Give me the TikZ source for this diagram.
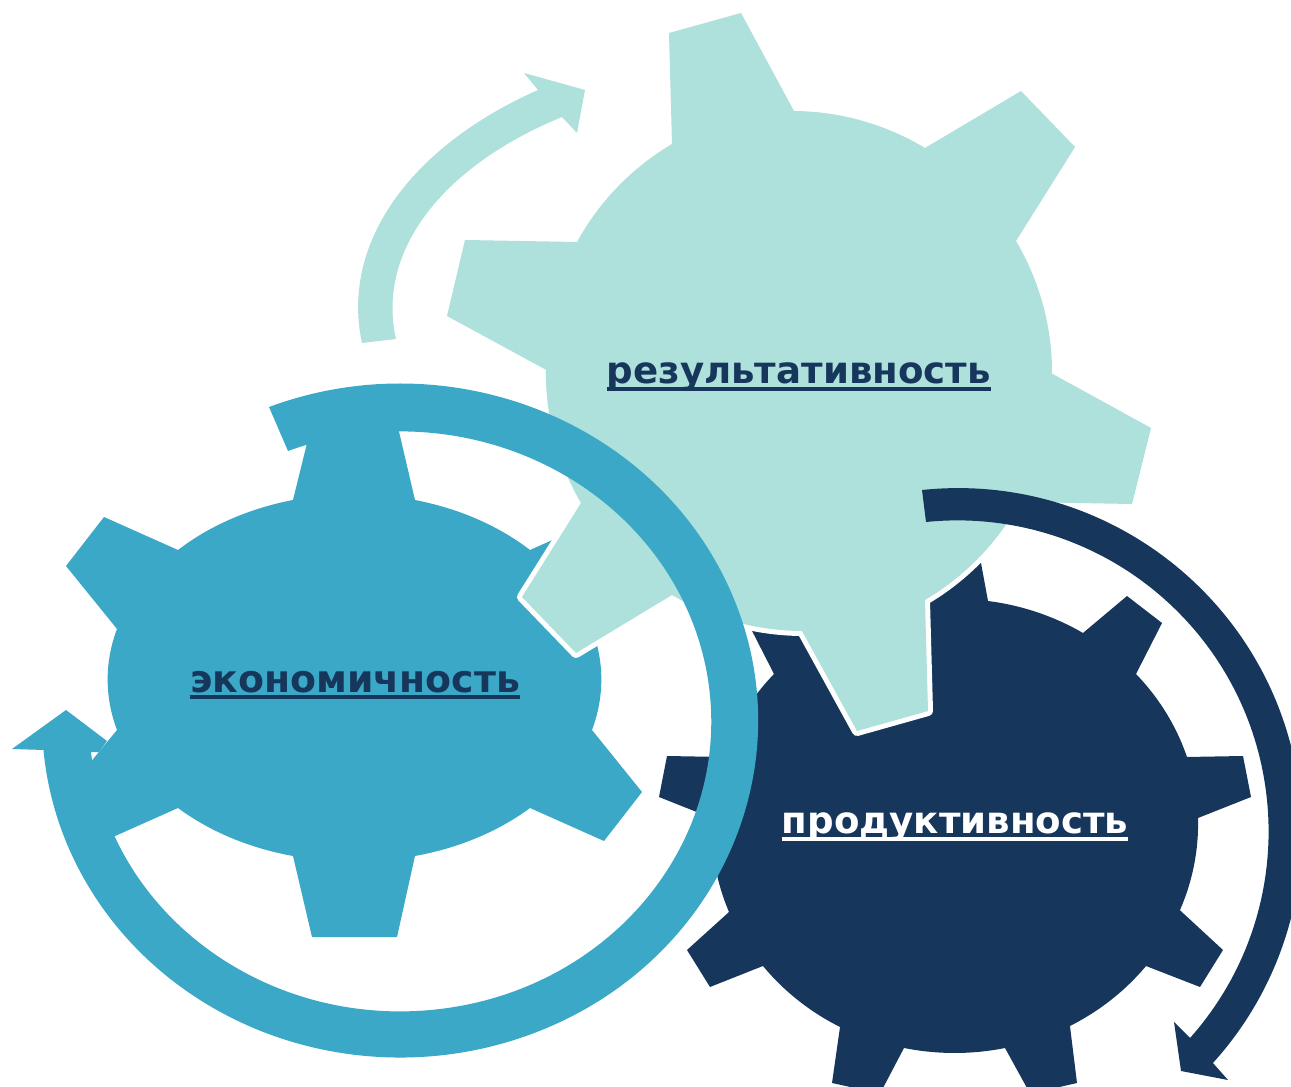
\documentclass[tikz,border=0pt]{standalone}
\usepackage{fontspec}
\setmainfont{DejaVu Sans}
\usetikzlibrary{svg.path}
\definecolor{lightteal}{HTML}{AEE0DC}
\definecolor{midblue}{HTML}{3AA8C6}
\definecolor{darkblue}{HTML}{16365B}
\newsavebox{\ulbox}
\newcommand{\ulword}[1]{\sbox{\ulbox}{#1}\rlap{\rule[-5.6pt]{\wd\ulbox}{3pt}}\usebox{\ulbox}}
\tikzset{
  gearlabel/.style={font=\fontsize{#1}{32}\selectfont\bfseries, inner sep=0pt, anchor=base},
  lightgear/.style={fill=lightteal, preaction={draw=white, line width=7.5pt, line join=round}},
}
\begin{document}
\begin{tikzpicture}[yscale=-1]
\useasboundingbox (0pt,0pt) rectangle (968.25pt,815.25pt);
\begin{scope}[scale=0.75]
% dark gear
\fill[darkblue] svg "M 929 563 L 981 563 L 988 601 A 242 227 0 0 1 1083 633 L 1127 596 L 1162 623 L 1136 674 A 242 227 0 0 1 1187 757 L 1243 756 L 1251 797 L 1198 818 A 242 227 0 0 1 1180 912 L 1223 950 L 1200 987 L 1146 966 A 242 227 0 0 1 1070 1026 L 1077 1083 L 1055 1088 L 1027 1088 L 1005 1048 A 242 227 0 0 1 904 1048 L 883 1088 L 855 1088 L 832 1083 L 840 1027 A 242 227 0 0 1 763 966 L 710 987 L 687 950 L 729 912 A 242 227 0 0 1 712 818 L 659 797 L 667 756 L 723 757 A 242 227 0 0 1 774 674 L 748 623 L 783 596 L 827 633 A 242 227 0 0 1 922 601 Z";
% mid-blue gear
\fill[midblue] svg "M 312 423 L 397 423 L 415 500 A 246 185 0 0 1 530 550 L 604 517 L 642 566 L 592 629 A 246 185 0 0 1 592 730 L 642 792 L 604 841 L 530 808 A 246 185 0 0 1 415 856 L 397 937 L 312 937 L 293 856 A 246 185 0 0 1 178 808 L 104 841 L 66 792 L 117 730 A 246 185 0 0 1 117 629 L 66 566 L 104 517 L 178 550 A 246 185 0 0 1 293 500 Z";
% light gear
\path[lightgear] svg "M 669 33 L 741 13 L 794 111 A 258 258 0 0 1 925 148 L 1021 91 L 1075 147 L 1016 241 A 258 258 0 0 1 1052 376 L 1151 428 L 1132 504 L 1020 502 A 258 258 0 0 1 925 600 L 928 711 L 857 731 L 802 631 A 258 258 0 0 1 672 595 L 576 653 L 522 597 L 581 503 A 258 258 0 0 1 546 367 L 447 316 L 465 240 L 577 242 A 258 258 0 0 1 672 144 Z";
% light arrow
\fill[lightteal] svg "M 362 343 A 430 267 0 0 1 538 90 L 524 73 L 585 90 L 577 133 L 562 117 A 396 233 0 0 0 396 339 Z";
% dark arrow
\fill[darkblue] svg "M 922 490 A 344 344 0 0 1 1213 1063 L 1228 1080 L 1181 1071 L 1174 1022 L 1190 1038 A 311 311 0 0 0 926 522 Z";
% mid-blue ring arrow
\fill[midblue] svg "M 269 407 A 358 337 0 1 1 43.5 750 L 12 749 L 66 710 L 107 741 L 99 752 L 91 752 A 311 290 0 1 0 288 451 Z";
\end{scope}
\node[gearlabel=27.85, text=darkblue] (result) at (599pt,287.6pt) {\ulword{результативность}};
\node[gearlabel=28.35, text=darkblue] (econ) at (266.25pt,519pt) {\ulword{экономичность}};
\node[gearlabel=27.85, text=white] (prod) at (716.25pt,625pt) {\ulword{продуктивность}};
\end{tikzpicture}
\end{document}
